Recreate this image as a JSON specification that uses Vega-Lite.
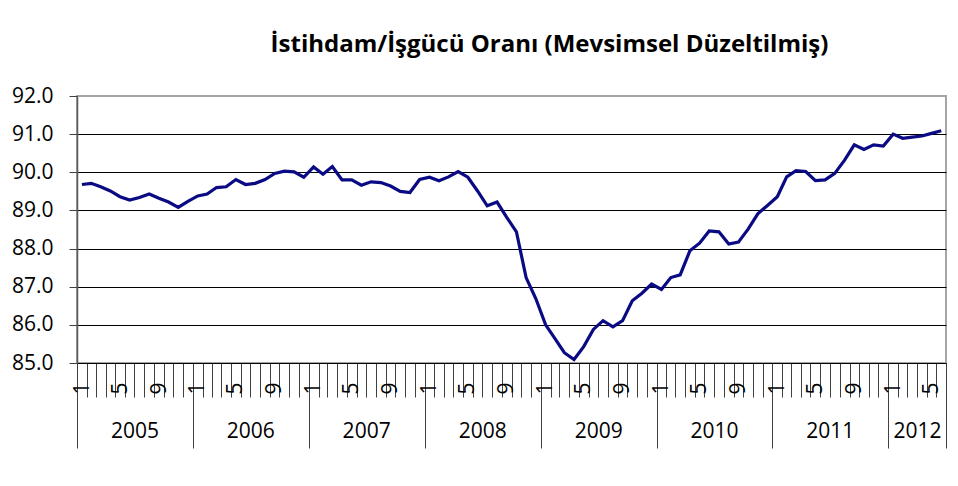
{
  "$schema": "https://vega.github.io/schema/vega-lite/v6.json",
  "width": 869,
  "height": 267,
  "autosize": "none",
  "padding": {"left": 77, "top": 96, "right": 12, "bottom": 123},
  "background": "white",
  "title": {
    "text": "İstihdam/İşgücü Oranı (Mevsimsel Düzeltilmiş)",
    "font": "Open Sans",
    "fontSize": 24,
    "fontWeight": "bold",
    "color": "#000000",
    "anchor": "middle",
    "dx": 38,
    "offset": 28
  },
  "config": {
    "view": {"stroke": "#a6a6a6", "strokeWidth": 2},
    "axis": {"labelFont": "Open Sans", "labelColor": "#000000"},
    "axisY": {
      "title": null, "values": [85, 86, 87, 88, 89, 90, 91, 92], "format": ".1f",
      "labelFontSize": 21, "labelPadding": 16, "tickSize": 8, "tickColor": "#404040",
      "domainColor": "#5a5a5a", "domainWidth": 1.5,
      "grid": true, "gridWidth": 1, "gridOpacity": 1
    }
  },
  "data": {
    "values": [
      {"month": "2005-01", "value": 89.68}, {"month": "2005-02", "value": 89.71}, {"month": "2005-03", "value": 89.62}, {"month": "2005-04", "value": 89.51},
      {"month": "2005-05", "value": 89.36}, {"month": "2005-06", "value": 89.27}, {"month": "2005-07", "value": 89.34}, {"month": "2005-08", "value": 89.43},
      {"month": "2005-09", "value": 89.32}, {"month": "2005-10", "value": 89.22}, {"month": "2005-11", "value": 89.08}, {"month": "2005-12", "value": 89.24},
      {"month": "2006-01", "value": 89.38}, {"month": "2006-02", "value": 89.43}, {"month": "2006-03", "value": 89.60}, {"month": "2006-04", "value": 89.62},
      {"month": "2006-05", "value": 89.81}, {"month": "2006-06", "value": 89.68}, {"month": "2006-07", "value": 89.71}, {"month": "2006-08", "value": 89.81},
      {"month": "2006-09", "value": 89.97}, {"month": "2006-10", "value": 90.03}, {"month": "2006-11", "value": 90.01}, {"month": "2006-12", "value": 89.87},
      {"month": "2007-01", "value": 90.14}, {"month": "2007-02", "value": 89.95}, {"month": "2007-03", "value": 90.15}, {"month": "2007-04", "value": 89.80},
      {"month": "2007-05", "value": 89.80}, {"month": "2007-06", "value": 89.66}, {"month": "2007-07", "value": 89.75}, {"month": "2007-08", "value": 89.73},
      {"month": "2007-09", "value": 89.64}, {"month": "2007-10", "value": 89.50}, {"month": "2007-11", "value": 89.47}, {"month": "2007-12", "value": 89.81},
      {"month": "2008-01", "value": 89.87}, {"month": "2008-02", "value": 89.78}, {"month": "2008-03", "value": 89.88}, {"month": "2008-04", "value": 90.02},
      {"month": "2008-05", "value": 89.87}, {"month": "2008-06", "value": 89.51}, {"month": "2008-07", "value": 89.12}, {"month": "2008-08", "value": 89.22},
      {"month": "2008-09", "value": 88.82}, {"month": "2008-10", "value": 88.44}, {"month": "2008-11", "value": 87.24}, {"month": "2008-12", "value": 86.69},
      {"month": "2009-01", "value": 86.00}, {"month": "2009-02", "value": 85.64}, {"month": "2009-03", "value": 85.27}, {"month": "2009-04", "value": 85.09},
      {"month": "2009-05", "value": 85.43}, {"month": "2009-06", "value": 85.88}, {"month": "2009-07", "value": 86.11}, {"month": "2009-08", "value": 85.95},
      {"month": "2009-09", "value": 86.11}, {"month": "2009-10", "value": 86.63}, {"month": "2009-11", "value": 86.83}, {"month": "2009-12", "value": 87.07},
      {"month": "2010-01", "value": 86.93}, {"month": "2010-02", "value": 87.24}, {"month": "2010-03", "value": 87.31}, {"month": "2010-04", "value": 87.94},
      {"month": "2010-05", "value": 88.14}, {"month": "2010-06", "value": 88.46}, {"month": "2010-07", "value": 88.44}, {"month": "2010-08", "value": 88.12},
      {"month": "2010-09", "value": 88.17}, {"month": "2010-10", "value": 88.51}, {"month": "2010-11", "value": 88.91}, {"month": "2010-12", "value": 89.13},
      {"month": "2011-01", "value": 89.36}, {"month": "2011-02", "value": 89.88}, {"month": "2011-03", "value": 90.04}, {"month": "2011-04", "value": 90.02},
      {"month": "2011-05", "value": 89.78}, {"month": "2011-06", "value": 89.80}, {"month": "2011-07", "value": 89.97}, {"month": "2011-08", "value": 90.32},
      {"month": "2011-09", "value": 90.72}, {"month": "2011-10", "value": 90.60}, {"month": "2011-11", "value": 90.72}, {"month": "2011-12", "value": 90.69},
      {"month": "2012-01", "value": 91.00}, {"month": "2012-02", "value": 90.89}, {"month": "2012-03", "value": 90.92}, {"month": "2012-04", "value": 90.95},
      {"month": "2012-05", "value": 91.02}, {"month": "2012-06", "value": 91.09}
    ]
  },
  "resolve": {"axis": {"x": "independent"}, "scale": {"x": "shared", "y": "shared"}},
  "layer": [
    {
      "mark": {"type": "line", "color": "#0a0a84", "strokeWidth": 3, "opacity": 0},
      "encoding": {
        "x": {
          "field": "month", "timeUnit": "utcyearmonth", "type": "temporal", "bandPosition": 0.5,
          "scale": {"type": "utc", "domain": [{"year": 2005, "month": 1, "date": 1, "utc": true}, {"year": 2012, "month": 7, "date": 1, "utc": true}], "nice": false},
          "axis": {
            "orient": "bottom", "title": null, "grid": false, "domain": false, "labels": false,
            "values": [
              {"year": 2005, "month": 1, "date": 1, "utc": true}, {"year": 2006, "month": 1, "date": 1, "utc": true},
              {"year": 2007, "month": 1, "date": 1, "utc": true}, {"year": 2008, "month": 1, "date": 1, "utc": true},
              {"year": 2009, "month": 1, "date": 1, "utc": true}, {"year": 2010, "month": 1, "date": 1, "utc": true},
              {"year": 2011, "month": 1, "date": 1, "utc": true}, {"year": 2012, "month": 1, "date": 1, "utc": true},
              {"year": 2012, "month": 7, "date": 1, "utc": true}
            ],
            "ticks": true, "tickSize": 85, "tickColor": "#404040", "tickWidth": 1
          }
        },
        "y": {
          "field": "value", "type": "quantitative", "scale": {"domain": [85, 92], "nice": false, "zero": false},
          "axis": {"title": null, "gridColor": {"condition": {"test": "datum.value >= 92", "value": "#a6a6a6"}, "value": "#000000"}}
        }
      }
    },
    {
      "mark": {"type": "line", "opacity": 0},
      "encoding": {
        "x": {
          "field": "month", "timeUnit": "utcyearmonth", "type": "temporal", "bandPosition": 0.5,
          "axis": {
            "orient": "bottom", "title": null, "grid": false, "domain": false, "ticks": false,
            "values": [
              {"year": 2005, "month": 7, "date": 1, "utc": true}, {"year": 2006, "month": 7, "date": 1, "utc": true},
              {"year": 2007, "month": 7, "date": 1, "utc": true}, {"year": 2008, "month": 7, "date": 1, "utc": true},
              {"year": 2009, "month": 7, "date": 1, "utc": true}, {"year": 2010, "month": 7, "date": 1, "utc": true},
              {"year": 2011, "month": 7, "date": 1, "utc": true}, {"year": 2012, "month": 4, "date": 1, "utc": true}
            ],
            "format": "%Y", "labelFontSize": 21, "labelPadding": 57, "labelOverlap": false, "labelFlush": false,
            "labelBaseline": "top"
          }
        },
        "y": {"field": "value", "type": "quantitative", "axis": {"title": null}}
      }
    },
    {
      "mark": {"type": "line", "color": "#0a0a84", "strokeWidth": 3.2},
      "encoding": {
        "x": {
          "field": "month", "timeUnit": "utcyearmonth", "type": "temporal", "bandPosition": 0.5,
          "axis": {
            "orient": "bottom", "title": null, "grid": false, "domain": true, "domainColor": "#000000", "domainWidth": 1,
            "tickCount": {"interval": "month", "step": 1},
            "ticks": true, "tickSize": 34, "tickColor": "#404040", "tickWidth": 1,
            "labelExpr": "utcmonth(datum.value) == 0 ? '1' : utcmonth(datum.value) == 4 ? '5' : utcmonth(datum.value) == 8 ? '9' : ''",
            "labelAngle": 270, "labelFontSize": 21, "labelPadding": -15, "labelOffset": 5,
            "labelOverlap": false, "labelFlush": false, "labelBound": false
          }
        },
        "y": {"field": "value", "type": "quantitative", "axis": {"title": null}}
      }
    }
  ]
}
